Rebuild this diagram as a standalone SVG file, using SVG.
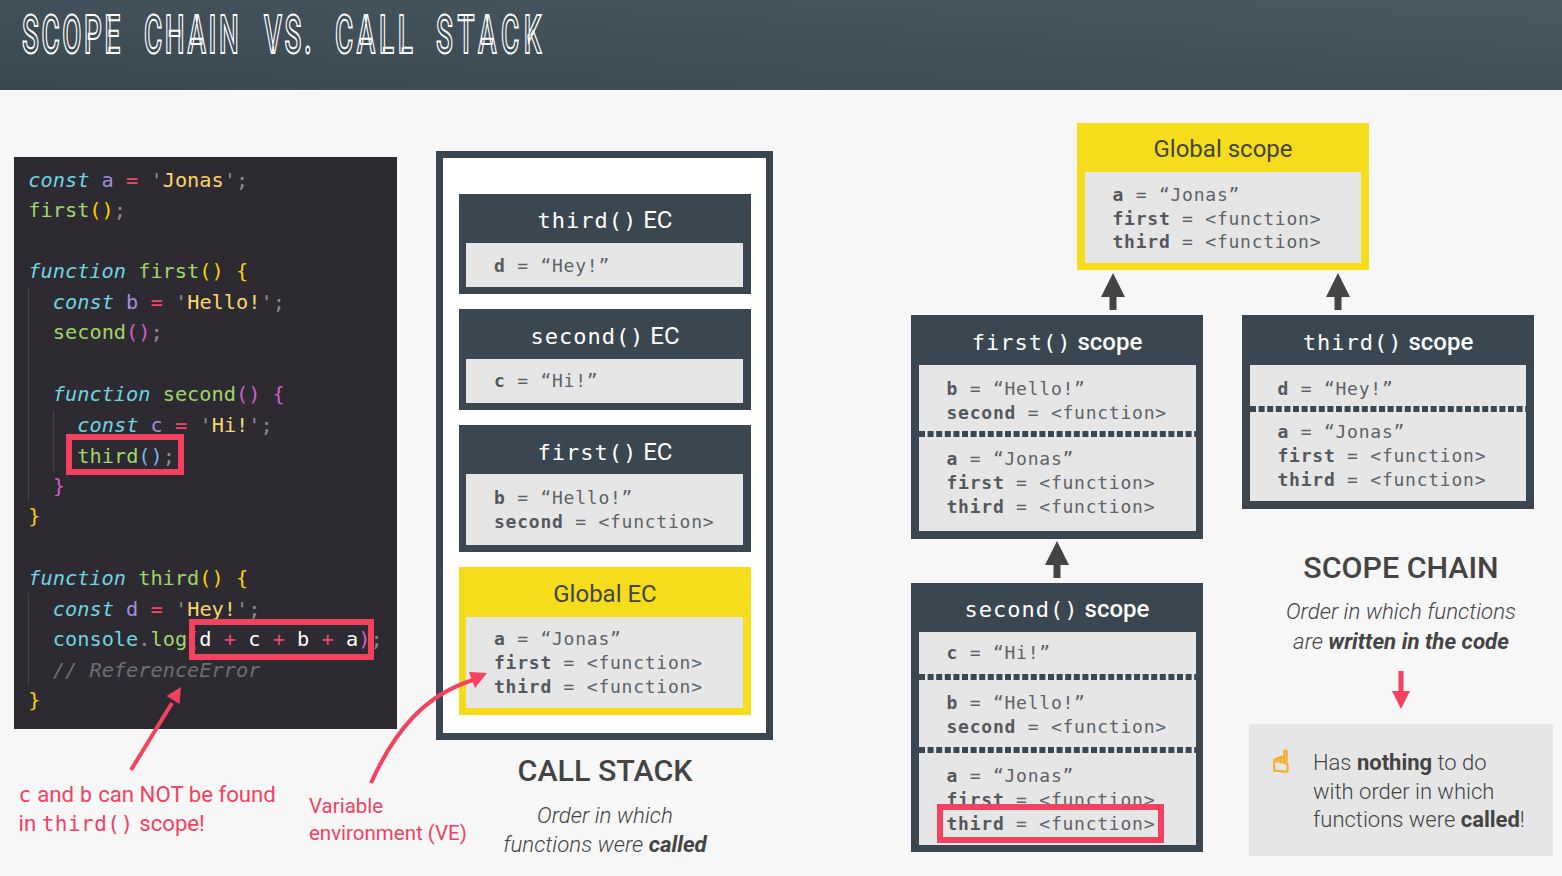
<svg xmlns="http://www.w3.org/2000/svg" width="1562" height="876" viewBox="0 0 1562 876">
<defs>
<linearGradient id="hdr" x1="0" y1="1" x2="1" y2="0"><stop offset="0" stop-color="#3a4850"/><stop offset="1" stop-color="#4a5a62"/></linearGradient>
<style>
text{white-space:pre}
.hd{font:500 53px Roboto,sans-serif;fill:#3f4f57;stroke:#fff;stroke-width:2;letter-spacing:5px}
.code{font:20.3px "DejaVu Sans Mono",monospace}
.k{fill:#6fd4e0;font-style:italic}.v{fill:#a48ede}.o{fill:#f3456a}.s{fill:#f9d56e}.f{fill:#a2d469}.y{fill:#ffd000}.g{fill:#8c8b8f}.m{fill:#d25ec4}.w{fill:#fff}.b{fill:#6fb8e8}.c{fill:#6fd4e0}
.cm{fill:#6f6e72;font-style:italic}
.dark{fill:#3a4750}.yel{fill:#f5dd1b}.in{fill:#e6e6e6}
.row{font:18px "DejaVu Sans Mono",monospace;letter-spacing:.76px;fill:#5f6266}
.row tspan.n{font-weight:700;fill:#55585c}
.t{font:24px Roboto,sans-serif;fill:#fff;text-anchor:middle}
.t .mono{font:22px "DejaVu Sans Mono",monospace;letter-spacing:1px}
.t .md{font-weight:500}
.ty{fill:#444}
.red{fill:none;stroke:#f3415f;stroke-width:6}
.dot{stroke:#3a4750;stroke-width:6;stroke-dasharray:6 2.6}
.guide{stroke:#47454c;stroke-width:1.2}
.lab{font:22.2px Roboto,sans-serif;fill:#f3415f}
.lab .mono{font:21px "DejaVu Sans Mono",monospace;letter-spacing:.5px}
.lab2{font:20.5px Roboto,sans-serif;fill:#f3415f}
.h{font:500 30.4px Roboto,sans-serif;fill:#444;text-anchor:middle}
.sub{font:italic 300 22.3px Roboto,sans-serif;fill:#444;text-anchor:middle}
.note{font:300 22px Roboto,sans-serif;fill:#444}
.bd{font-weight:700}
.up{fill:#444}
.rf{fill:#f3415f}
</style>
</defs>
<rect width="1562" height="876" fill="#f7f7f7"/>
<g id="header"><rect width="1562" height="90" fill="url(#hdr)"/>
<text class="hd" transform="translate(0 53) scale(.525 1)" y="0"><tspan x="41.900">SCOPE</tspan> <tspan x="274.300">CHAIN</tspan> <tspan x="502.900">VS.</tspan> <tspan x="638.100" style="letter-spacing:7px">CALL</tspan> <tspan x="830.500" style="letter-spacing:9px">STACK</tspan></text></g>

<g id="code"><rect x="14" y="157" width="383" height="572" fill="#2d2b31"/>
<path class="guide" d="M28.500 287V501M28.500 593V685M53.500 410V471"/>
<g class="code">
<text x="28.300" y="187"><tspan class="k">const</tspan> <tspan class="v">a</tspan> <tspan class="o">=</tspan> <tspan class="g">'</tspan><tspan class="s">Jonas</tspan><tspan class="g">';</tspan></text>
<text x="28.300" y="217"><tspan class="f">first</tspan><tspan class="y">()</tspan><tspan class="g">;</tspan></text>
<text x="28.300" y="278"><tspan class="k">function</tspan> <tspan class="f">first</tspan><tspan class="y">() {</tspan></text>
<text x="52.800" y="309"><tspan class="k">const</tspan> <tspan class="v">b</tspan> <tspan class="o">=</tspan> <tspan class="g">'</tspan><tspan class="s">Hello!</tspan><tspan class="g">';</tspan></text>
<text x="52.800" y="339"><tspan class="f">second</tspan><tspan class="m">()</tspan><tspan class="g">;</tspan></text>
<text x="52.800" y="401"><tspan class="k">function</tspan> <tspan class="f">second</tspan><tspan class="m">() {</tspan></text>
<text x="77.300" y="432"><tspan class="k">const</tspan> <tspan class="v">c</tspan> <tspan class="o">=</tspan> <tspan class="g">'</tspan><tspan class="s">Hi!</tspan><tspan class="g">';</tspan></text>
<text x="77.300" y="463"><tspan class="f">third</tspan><tspan class="b">()</tspan><tspan class="g">;</tspan></text>
<text x="52.800" y="493" class="m">}</text>
<text x="28.300" y="523" class="y">}</text>
<text x="28.300" y="585"><tspan class="k">function</tspan> <tspan class="f">third</tspan><tspan class="y">() {</tspan></text>
<text x="52.800" y="616"><tspan class="k">const</tspan> <tspan class="v">d</tspan> <tspan class="o">=</tspan> <tspan class="g">'</tspan><tspan class="s">Hey!</tspan><tspan class="g">';</tspan></text>
<text x="52.800" y="646"><tspan class="c">console</tspan><tspan class="g">.</tspan><tspan class="f">log</tspan><tspan class="m">(</tspan><tspan class="w">d</tspan> <tspan class="o">+</tspan> <tspan class="w">c</tspan> <tspan class="o">+</tspan> <tspan class="w">b</tspan> <tspan class="o">+</tspan> <tspan class="w">a</tspan><tspan class="m">)</tspan><tspan class="g">;</tspan></text>
<text x="52.800" y="677" class="cm">// ReferenceError</text>
<text x="28.300" y="707" class="y">}</text>
</g>
<rect class="red" x="69" y="437" width="112" height="35"/>
<rect class="red" x="192" y="622" width="179" height="35"/>
</g>

<g id="call-stack-frame"><rect x="439.500" y="154.500" width="330" height="582" fill="#fff" stroke="#3a4750" stroke-width="7"/></g>

<g id="third-ec"><rect class="dark" x="459" y="194" width="292" height="100"/><rect class="in" x="466" y="243" width="277" height="44"/>
<text class="t" x="605" y="228"><tspan class="mono">third()</tspan> EC</text>
<text class="row" x="494" y="272"><tspan class="n">d</tspan> = “Hey!”</text></g>
<g id="second-ec"><rect class="dark" x="459" y="309" width="292" height="101"/><rect class="in" x="466" y="359" width="277" height="44"/>
<text class="t" x="605" y="344"><tspan class="mono">second()</tspan> EC</text>
<text class="row" x="494" y="387"><tspan class="n">c</tspan> = “Hi!”</text></g>
<g id="first-ec"><rect class="dark" x="459" y="425" width="292" height="127"/><rect class="in" x="466" y="474" width="277" height="71"/>
<text class="t" x="605" y="460"><tspan class="mono">first()</tspan> EC</text>
<text class="row" x="494" y="504"><tspan class="n">b</tspan> = “Hello!”</text>
<text class="row" x="494" y="528"><tspan class="n">second</tspan> = &lt;function&gt;</text></g>
<g id="global-ec"><rect class="yel" x="459" y="567" width="292" height="148"/><rect class="in" x="466" y="617" width="277" height="91"/>
<text class="t ty" x="605" y="602">Global EC</text>
<text class="row" x="494" y="645"><tspan class="n">a</tspan> = “Jonas”</text>
<text class="row" x="494" y="669"><tspan class="n">first</tspan> = &lt;function&gt;</text>
<text class="row" x="494" y="693"><tspan class="n">third</tspan> = &lt;function&gt;</text></g>

<g id="call-stack-caption"><text class="h" x="605" y="781">CALL STACK</text>
<text class="sub" x="605" y="823">Order in which</text>
<text class="sub" x="605" y="852">functions were <tspan class="bd">called</tspan></text></g>

<g id="global-scope"><rect class="yel" x="1077" y="123" width="292" height="147"/><rect class="in" x="1085" y="172" width="276" height="91"/>
<text class="t ty" x="1223" y="157">Global scope</text>
<text class="row" x="1112.500" y="201"><tspan class="n">a</tspan> = “Jonas”</text>
<text class="row" x="1112.500" y="225"><tspan class="n">first</tspan> = &lt;function&gt;</text>
<text class="row" x="1112.500" y="248"><tspan class="n">third</tspan> = &lt;function&gt;</text></g>

<g id="first-scope"><rect class="dark" x="911" y="315" width="292" height="224"/><rect class="in" x="919" y="365" width="277" height="166"/>
<path class="dot" d="M919 434H1196"/>
<text class="t" x="1057" y="350"><tspan class="mono">first()</tspan> <tspan class="md">scope</tspan></text>
<text class="row" x="946.500" y="395"><tspan class="n">b</tspan> = “Hello!”</text>
<text class="row" x="946.500" y="419"><tspan class="n">second</tspan> = &lt;function&gt;</text>
<text class="row" x="946.500" y="465"><tspan class="n">a</tspan> = “Jonas”</text>
<text class="row" x="946.500" y="489"><tspan class="n">first</tspan> = &lt;function&gt;</text>
<text class="row" x="946.500" y="513"><tspan class="n">third</tspan> = &lt;function&gt;</text></g>

<g id="third-scope"><rect class="dark" x="1242" y="315" width="292" height="194"/><rect class="in" x="1250" y="365" width="276" height="136"/>
<path class="dot" d="M1250 409H1526"/>
<text class="t" x="1388" y="350"><tspan class="mono">third()</tspan> <tspan class="md">scope</tspan></text>
<text class="row" x="1277.500" y="395"><tspan class="n">d</tspan> = “Hey!”</text>
<text class="row" x="1277.500" y="438"><tspan class="n">a</tspan> = “Jonas”</text>
<text class="row" x="1277.500" y="462"><tspan class="n">first</tspan> = &lt;function&gt;</text>
<text class="row" x="1277.500" y="486"><tspan class="n">third</tspan> = &lt;function&gt;</text></g>

<g id="second-scope"><rect class="dark" x="911" y="583" width="292" height="269"/><rect class="in" x="919" y="632" width="277" height="213"/>
<path class="dot" d="M919 677H1196M919 750H1196"/>
<text class="t" x="1057" y="617"><tspan class="mono">second()</tspan> <tspan class="md">scope</tspan></text>
<text class="row" x="946.500" y="659"><tspan class="n">c</tspan> = “Hi!”</text>
<text class="row" x="946.500" y="709"><tspan class="n">b</tspan> = “Hello!”</text>
<text class="row" x="946.500" y="733"><tspan class="n">second</tspan> = &lt;function&gt;</text>
<text class="row" x="946.500" y="782"><tspan class="n">a</tspan> = “Jonas”</text>
<text class="row" x="946.500" y="806"><tspan class="n">first</tspan> = &lt;function&gt;</text>
<rect class="in" x="940" y="807" width="221" height="33"/>
<text class="row" x="946.500" y="830"><tspan class="n">third</tspan> = &lt;function&gt;</text>
<rect class="red" x="940" y="807" width="221" height="33"/></g>

<g id="scope-chain-caption"><text class="h" x="1401" y="578">SCOPE CHAIN</text>
<text class="sub" x="1401" y="619">Order in which functions</text>
<text class="sub" x="1401" y="649">are <tspan class="bd">written in the code</tspan></text></g>

<g id="note"><rect class="in" x="1249" y="724" width="304" height="132"/>
<text x="1272" y="772" font-family="'DejaVu Sans',sans-serif" font-size="30" fill="#f5bd3a" stroke="#f2ae27" stroke-width="1.500">☝</text>
<text class="note" x="1313" y="770">Has <tspan class="bd">nothing</tspan> to do</text>
<text class="note" x="1313" y="799">with order in which</text>
<text class="note" x="1313" y="827">functions were <tspan class="bd">called</tspan>!</text></g>

<g id="annotations">
<text class="lab" x="18.500" y="801.500"><tspan class="mono">c</tspan> and <tspan class="mono">b</tspan> can NOT be found</text>
<text class="lab" x="18.500" y="830.500">in <tspan class="mono">third()</tspan> scope!</text>
<text class="lab2" x="309" y="813">Variable</text>
<text class="lab2" x="309" y="840">environment (VE)</text>
</g>

<g id="connectors">
<path class="up" d="M1113 273l12 24h-8.500v13h-7v-13h-8.500zM1338 273l12 24h-8.500v13h-7v-13h-8.500zM1057 541l12 24h-8.500v13h-7v-13h-8.500z"/>
<path d="M1401 671V693" stroke="#f3415f" stroke-width="5"/>
<path class="rf" d="M1392 691H1410L1401 709z"/>
<path d="M131 770L172 703" fill="none" stroke="#f3415f" stroke-width="4"/>
<path class="rf" d="M181 687L179.500 704L166.500 696z"/>
<path d="M371 783C395 730 425 695 473 680" fill="none" stroke="#f3415f" stroke-width="4"/>
<path class="rf" d="M487 673L475 688L469 672z"/>
</g>
</svg>
